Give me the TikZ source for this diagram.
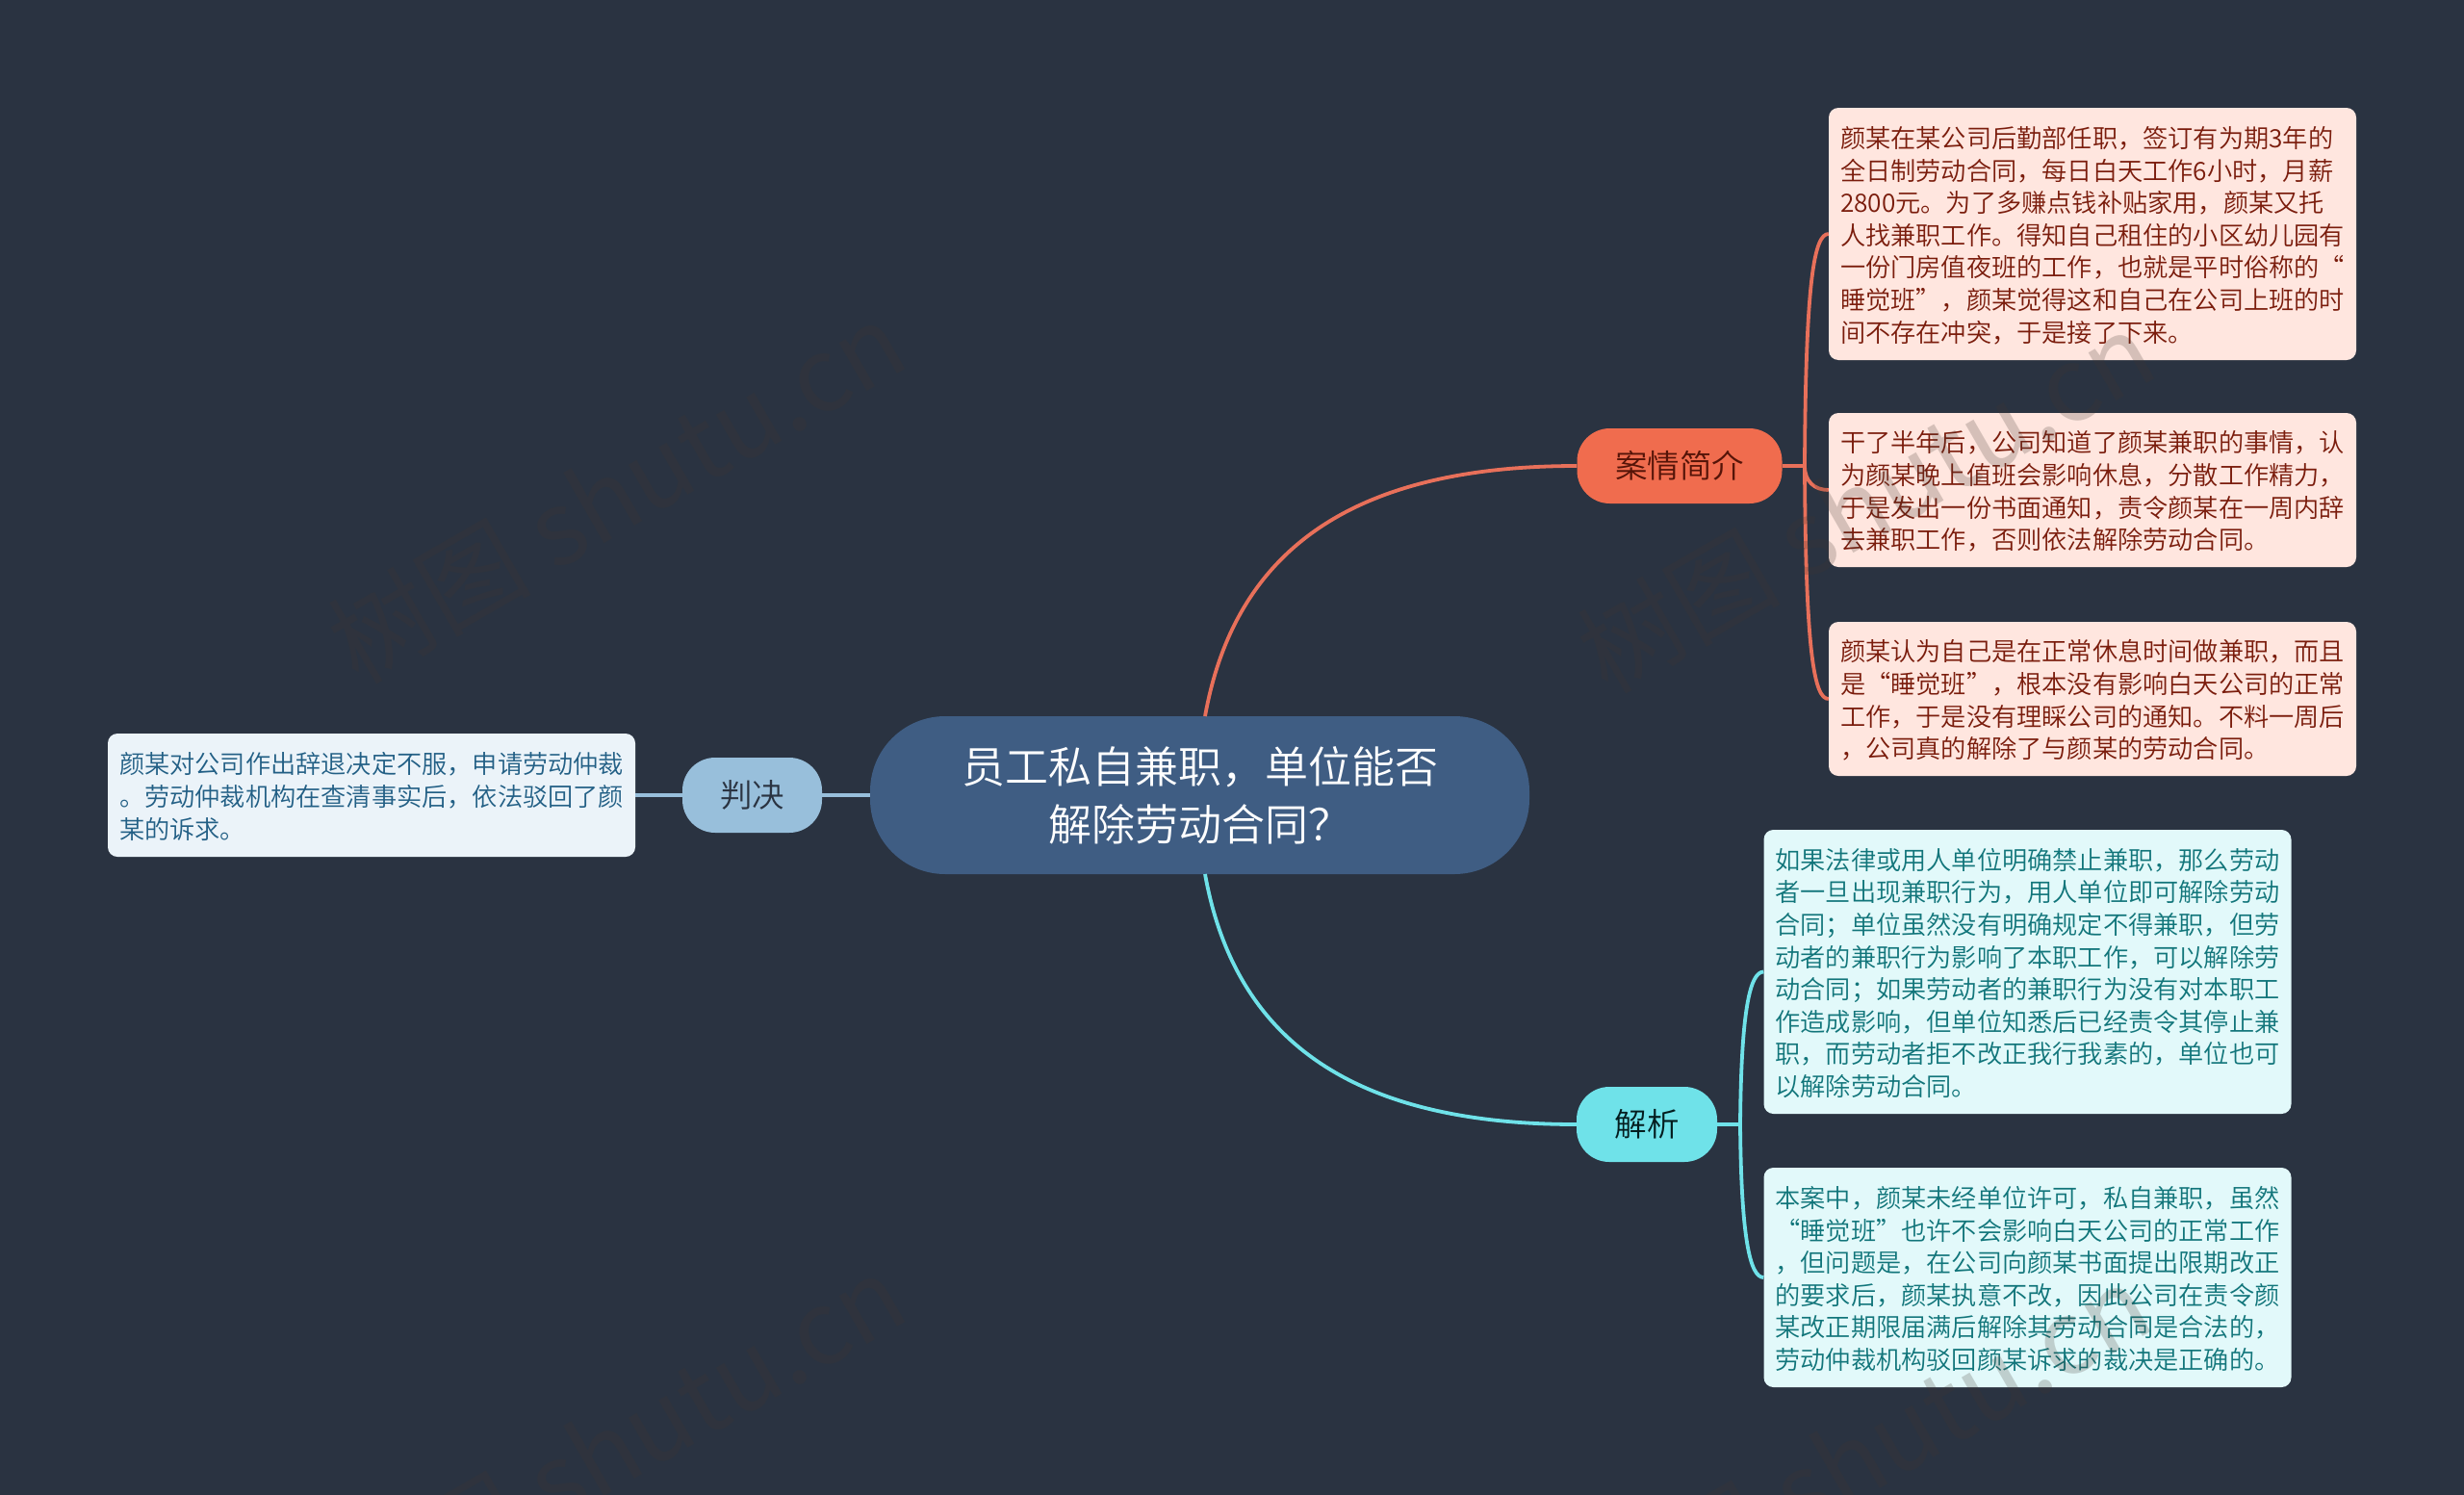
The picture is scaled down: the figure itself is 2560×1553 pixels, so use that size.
\documentclass[tikz,border=0pt]{standalone}
\usepackage{fontspec}
\setmainfont{Noto Sans CJK SC}[UprightFont=* DemiLight,BoldFont=*]
\newfontfamily\wmfont{Noto Sans CJK SC}
\definecolor{bgc}{HTML}{2A3341}
\definecolor{midc}{HTML}{3F5D83}
\definecolor{orc}{HTML}{F06C4E}
\definecolor{orl}{HTML}{E8705A}
\definecolor{orb}{HTML}{FFE6DF}
\definecolor{ort}{HTML}{7A1C0C}
\definecolor{cyc}{HTML}{6FE2E9}
\definecolor{cyb}{HTML}{E2F9FA}
\definecolor{cyt}{HTML}{11757A}
\definecolor{blc}{HTML}{98BFDB}
\definecolor{blb}{HTML}{EBF3F9}
\definecolor{blt}{HTML}{225F85}
\definecolor{wmc}{HTML}{41372F}
\tikzset{
  centralnode/.style={fill=midc,text=white,rounded corners=78pt,minimum width=685pt,minimum height=164pt,inner sep=0pt,align=center,font=\fontsize{45}{60}\selectfont},
  branchnode/.style={rounded corners=34pt,minimum height=78pt,inner sep=0pt,font=\fontsize{33.5}{40}\selectfont},
  leafnode/.style={rounded corners=10pt,inner xsep=12pt,inner ysep=0pt,text width=524pt,align=left,font=\fontsize{26.2}{33.6}\selectfont,execute at end node={\par\vspace*{-3pt}}},
  orleaf/.style={leafnode,fill=orb,text=ort},
  cyleaf/.style={leafnode,fill=cyb,text=cyt},
  blleaf/.style={leafnode,fill=blb,text=blt},
  orlink/.style={draw=orl,line width=3.8pt},
  cylink/.style={draw=cyc,line width=3.8pt},
  bllink/.style={draw=blc,line width=3.8pt},
  wmark/.style={rotate=30,text=wmc,text opacity=.22,font=\wmfont\fontsize{106}{120}\selectfont,inner sep=0pt}
}
\begin{document}
\begin{tikzpicture}[x=1pt,y=-1pt]
\useasboundingbox (0,0) rectangle (2560,1553);
\fill[bgc] (0,0) rectangle (2560,1553);
% coordinates for connector ends
\coordinate (midtop) at (1252,744);
\coordinate (midbot) at (1252,908);
\coordinate (orspine) at (1875,484);
\coordinate (cyspine) at (1808,1168);
% nodes
\node[centralnode] (central) at (1246.5,826) {员工私自兼职，单位能否\\解除劳动合同？};
\node[branchnode,fill=orc,text=ort!70!black,minimum width=213pt] (case) at (1745,484) {案情简介};
\node[branchnode,fill=cyc,text=black!75!cyt,minimum width=146pt] (ana) at (1711,1168) {解析};
\node[branchnode,fill=blc,text=bgc,minimum width=145pt] (verdict) at (781.5,826) {判决};
\node[orleaf,minimum height=262pt] (a1) at (2174,243) {颜某在某公司后勤部任职，签订有为期3年的\\全日制劳动合同，每日白天工作6小时，月薪\\2800元。为了多赚点钱补贴家用，颜某又托\\人找兼职工作。得知自己租住的小区幼儿园有\\一份门房值夜班的工作，也就是平时俗称的“\\睡觉班”，颜某觉得这和自己在公司上班的时\\间不存在冲突，于是接了下来。};
\node[orleaf,minimum height=160pt] (a2) at (2174,509) {干了半年后，公司知道了颜某兼职的事情，认\\为颜某晚上值班会影响休息，分散工作精力，\\于是发出一份书面通知，责令颜某在一周内辞\\去兼职工作，否则依法解除劳动合同。};
\node[orleaf,minimum height=160pt] (a3) at (2174,726) {颜某认为自己是在正常休息时间做兼职，而且\\是“睡觉班”，根本没有影响白天公司的正常\\工作，于是没有理睬公司的通知。不料一周后\\，公司真的解除了与颜某的劳动合同。};
\node[cyleaf,minimum height=295pt] (b1) at (2106.5,1009.5) {如果法律或用人单位明确禁止兼职，那么劳动\\者一旦出现兼职行为，用人单位即可解除劳动\\合同；单位虽然没有明确规定不得兼职，但劳\\动者的兼职行为影响了本职工作，可以解除劳\\动合同；如果劳动者的兼职行为没有对本职工\\作造成影响，但单位知悉后已经责令其停止兼\\职，而劳动者拒不改正我行我素的，单位也可\\以解除劳动合同。};
\node[cyleaf,minimum height=228pt] (b2) at (2106.5,1327) {本案中，颜某未经单位许可，私自兼职，虽然\\“睡觉班”也许不会影响白天公司的正常工作\\，但问题是，在公司向颜某书面提出限期改正\\的要求后，颜某执意不改，因此公司在责令颜\\某改正期限届满后解除其劳动合同是合法的，\\劳动仲裁机构驳回颜某诉求的裁决是正确的。};
\node[blleaf,minimum height=128pt] (c1) at (386,826) {颜某对公司作出辞退决定不服，申请劳动仲裁\\。劳动仲裁机构在查清事实后，依法驳回了颜\\某的诉求。};
% connectors
\draw[orlink] (midtop) .. controls (1285,560) and (1420,484) .. (case.west);
\draw[cylink] (midbot) .. controls (1285,1092) and (1420,1168) .. (ana.west);
\draw[bllink] (central.west) -- (verdict.east);
\draw[bllink] (verdict.west) -- (c1.east);
\draw[orlink] (case.east) -- (orspine);
\draw[orlink] (orspine) .. controls (1876,290) and (1885,243) .. (a1.west);
\draw[orlink] (orspine) .. controls (1875,500) and (1885,509) .. (a2.west);
\draw[orlink] (orspine) .. controls (1876,680) and (1885,726) .. (a3.west);
\draw[cylink] (ana.east) -- (cyspine);
\draw[cylink] (cyspine) .. controls (1809,1050) and (1818,1009.5) .. (b1.west);
\draw[cylink] (cyspine) .. controls (1809,1285) and (1818,1327) .. (b2.west);
% watermarks
\node[wmark] (wm1) at (640,511) {树图 shutu.cn};
\node[wmark] (wm2) at (1938,521) {树图 shutu.cn};
\node[wmark] (wm3) at (640,1501) {树图 shutu.cn};
\node[wmark] (wm4) at (1934,1511) {树图 shutu.cn};
\end{tikzpicture}
\end{document}
